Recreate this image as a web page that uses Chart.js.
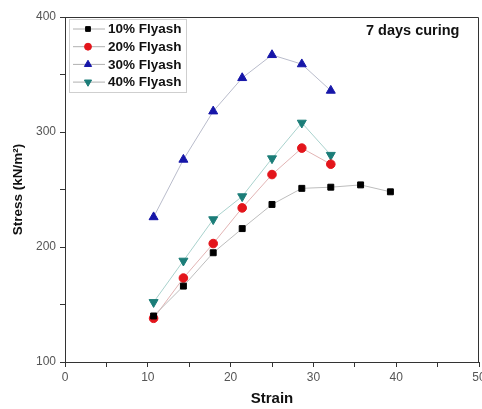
<!DOCTYPE html>
<html>
<head>
<meta charset="utf-8">
<script src="https://cdn.jsdelivr.net/npm/chart.js@4.4.1/dist/chart.umd.min.js"></script>
<style>
  html, body { margin: 0; padding: 0; background: #fff; }
  #wrap { width: 482px; height: 409px; }
</style>
</head>
<body>
<div id="wrap"><canvas id="chart" width="482" height="409"></canvas></div>
<script>
// ── Data ──
const STRAIN = [10.7, 14.3, 17.9, 21.4, 25.0, 28.6, 32.1, 35.7, 39.3];
const FLY10 = [140, 166, 195, 216, 237, 251, 252, 254, 248];
const FLY20 = [138, 173, 203, 234, 263, 286, 272];
const FLY30 = [226, 276, 318, 347, 367, 359, 336];
const FLY40 = [152, 188, 224, 244, 277, 308, 280];
const LABELS = ['10% Flyash', '20% Flyash', '30% Flyash', '40% Flyash'];
const Y_TICKS = [100, 200, 300, 400];
const X_TICKS = [0, 10, 20, 30, 40, 50];
const NOTE = '7 days curing';

const pts = vals => vals.map((v, i) => ({ x: STRAIN[i], y: v }));

const FONT = 'Liberation Sans, Arial, sans-serif';

function series(label, vals, color, lineColor, style, radius, rotation) {
  return {
    label, data: pts(vals),
    borderColor: lineColor, borderWidth: 1,
    pointStyle: style, pointRadius: radius, pointRotation: rotation || 0,
    pointBackgroundColor: color, pointBorderColor: color, pointBorderWidth: 1,
    tension: 0, fill: false
  };
}

// ── In-plot legend box + note + frame ──
const extras = {
  id: 'extras',
  afterDatasetsDraw(chart) {
    const { ctx, chartArea: a } = chart;
    ctx.save();
    // frame top/right
    ctx.strokeStyle = '#333';
    ctx.lineWidth = 1;
    ctx.beginPath();
    ctx.moveTo(a.left, a.top + 0.5);
    ctx.lineTo(a.right - 0.5, a.top + 0.5);
    ctx.lineTo(a.right - 0.5, a.bottom);
    ctx.stroke();

    // legend box
    const bx = 69.5, by = 19.5, bw = 117, bh = 73;
    ctx.fillStyle = '#fff';
    ctx.fillRect(bx, by, bw, bh);
    ctx.strokeStyle = '#cfcfcf';
    ctx.strokeRect(bx, by, bw, bh);
    chart.data.datasets.forEach((ds, i) => {
      const y = 29 + i * 17.7;
      ctx.strokeStyle = '#b0b0b0';
      ctx.beginPath();
      ctx.moveTo(73, y);
      ctx.lineTo(105, y);
      ctx.stroke();
      ctx.fillStyle = ds.pointBackgroundColor;
      ctx.strokeStyle = ds.pointBorderColor;
      Chart.helpers.drawPoint(ctx, {
        pointStyle: ds.pointStyle, radius: ds.pointRadius * 0.8,
        rotation: ds.pointRotation, borderWidth: 1
      }, 88, y);
      ctx.fillStyle = '#111';
      ctx.font = 'bold 13.5px ' + FONT;
      ctx.textBaseline = 'middle';
      ctx.textAlign = 'left';
      ctx.fillText(ds.label, 108, y + 0.5);
    });

    // note
    ctx.fillStyle = '#111';
    ctx.font = 'bold 14.5px ' + FONT;
    ctx.textAlign = 'left';
    ctx.textBaseline = 'middle';
    ctx.fillText(NOTE, 366, 31);
    ctx.restore();
  }
};

new Chart(document.getElementById('chart'), {
  type: 'line',
  data: {
    datasets: [
      series(LABELS[0], FLY10, '#000000', '#bdbdbd', 'rect', 4.2),
      series(LABELS[1], FLY20, '#e3151b', '#e2b4b4', 'circle', 4.3),
      series(LABELS[2], FLY30, '#1616a8', '#b9bccb', 'triangle', 5.2),
      series(LABELS[3], FLY40, '#1b7d78', '#a9d2cd', 'triangle', 5.2, 180)
    ]
  },
  plugins: [extras],
  options: {
    responsive: false, animation: false,
    layout: { autoPadding: false, padding: { left: 0, right: 3, top: 17, bottom: 0 } },
    plugins: { legend: { display: false }, tooltip: { enabled: false } },
    scales: {
      x: {
        type: 'linear', min: 0, max: 50,
        afterFit: s => { s.height = 47; s.paddingLeft = 0; s.paddingRight = 0; },
        afterBuildTicks: s => { s.ticks = [0, 5, 10, 15, 20, 25, 30, 35, 40, 45, 50].map(v => ({ value: v })); },
        border: { color: '#333', width: 1 },
        grid: { drawOnChartArea: false, tickLength: 5, color: '#333' },
        ticks: {
          color: '#555', font: { size: 12, family: FONT }, padding: 3,
          maxRotation: 0, autoSkip: false,
          callback: v => X_TICKS.includes(v) ? String(v) : ''
        },
        title: { display: true, text: 'Strain', color: '#111',
          font: { size: 15, weight: 'bold', family: FONT }, padding: { top: 0, bottom: 1 } }
      },
      y: {
        type: 'linear', min: 100, max: 400,
        afterFit: s => { s.width = 65; },
        afterBuildTicks: s => { s.ticks = [100, 150, 200, 250, 300, 350, 400].map(v => ({ value: v })); },
        border: { color: '#333', width: 1 },
        grid: { drawOnChartArea: false, tickLength: 5, color: '#333' },
        ticks: {
          color: '#555', font: { size: 12, family: FONT }, padding: 4, autoSkip: false,
          callback: v => Y_TICKS.includes(v) ? String(v) : ''
        },
        title: { display: true, text: 'Stress (kN/m²)', color: '#111',
          font: { size: 13.5, weight: 'bold', family: FONT }, padding: { top: 10, bottom: 0 } }
      }
    }
  }
});
</script>
</body>
</html>
